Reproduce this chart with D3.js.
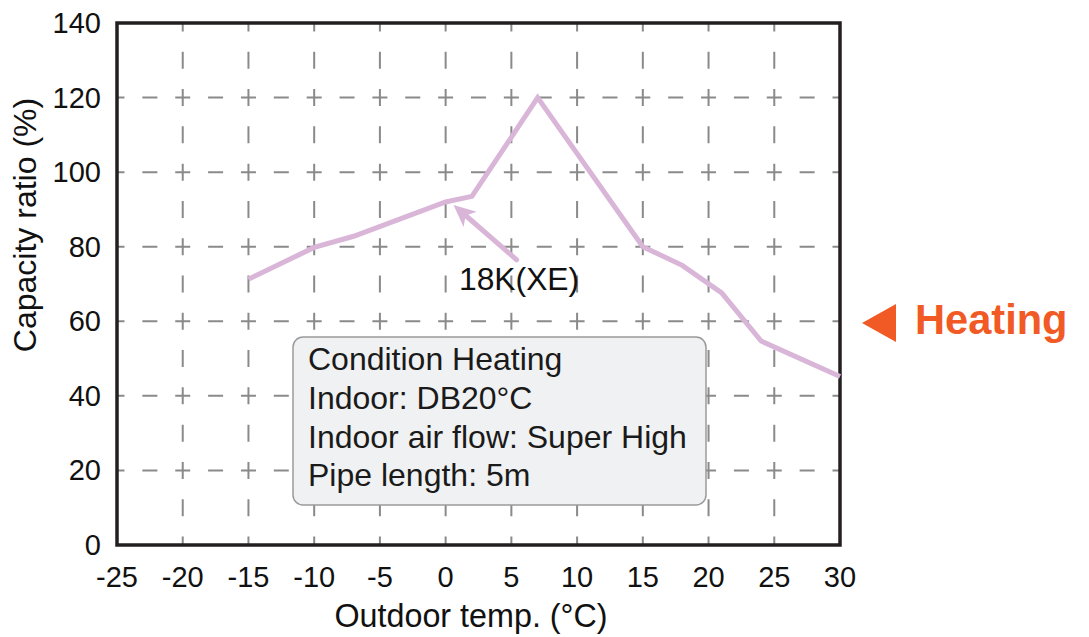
<!DOCTYPE html>
<html><head><meta charset="utf-8">
<script src="https://cdn.jsdelivr.net/npm/d3@7"></script>
<style>body{margin:0;background:#fff}svg{display:block}text{font-family:"Liberation Sans",Arial,sans-serif}</style>
</head><body><svg id="c" width="1089" height="637"></svg>
<script>
const temps = [-15, -10, -7, 0, 2, 7, 15, 18, 21, 24, 30];
const capacity = [71.3, 79.8, 82.8, 92, 93.5, 120, 80, 75, 67.6, 54.7, 45.2];
const xTicks = [-25, -20, -15, -10, -5, 0, 5, 10, 15, 20, 25, 30];
const yTicks = [0, 20, 40, 60, 80, 100, 120, 140];
const boxLines = ["Condition Heating", "Indoor: DB20°C", "Indoor air flow: Super High", "Pipe length: 5m"];
const seriesLabel = "18K(XE)";
const arrowFrom = [5.4, 76.5], arrowTo = [0.6, 91.2];

const svg = d3.select("#c");
const L = 117, R = 840, T = 23, B = 545;
const x = d3.scaleLinear().domain([-25, 30]).range([L, R]);
const y = d3.scaleLinear().domain([0, 140]).range([B, T]);

// grid
const gx = Math.abs(x(5) - x(0)) / 2, gy = Math.abs(y(0) - y(20)) / 2;
const dh = 15, dv = 17;
svg.append("g").selectAll("line").data(yTicks.slice(1, -1)).join("line")
  .attr("x1", L).attr("x2", R).attr("y1", d => y(d)).attr("y2", d => y(d))
  .attr("stroke", "#8a8a8a").attr("stroke-width", 2)
  .attr("stroke-dasharray", `${dh},${gx - dh}`).attr("stroke-dashoffset", dh / 2);
svg.append("g").selectAll("line").data(xTicks.slice(1, -1)).join("line")
  .attr("x1", d => x(d)).attr("x2", d => x(d)).attr("y1", B).attr("y2", T)
  .attr("stroke", "#8a8a8a").attr("stroke-width", 2)
  .attr("stroke-dasharray", `${dv},${gy - dv}`).attr("stroke-dashoffset", dv / 2);

// frame
svg.append("rect").attr("x", L).attr("y", T).attr("width", R - L).attr("height", B - T)
  .attr("fill", "none").attr("stroke", "#231f20").attr("stroke-width", 3.5);

// axes labels
svg.append("g").selectAll("text").data(xTicks).join("text")
  .attr("x", d => x(d)).attr("y", 587).attr("text-anchor", "middle")
  .attr("font-size", 29).attr("fill", "#111").text(d => d);
svg.append("g").selectAll("text").data(yTicks).join("text")
  .attr("x", 101).attr("y", d => y(d) + 10).attr("text-anchor", "end")
  .attr("font-size", 29).attr("fill", "#111").text(d => d);
svg.append("text").attr("x", 471).attr("y", 627).attr("text-anchor", "middle")
  .attr("font-size", 32.3).attr("fill", "#111").text("Outdoor temp. (°C)");
svg.append("text").attr("transform", `translate(36,${(92 + 358) / 2}) rotate(-90)`)
  .attr("text-anchor", "middle").attr("font-size", 32).attr("fill", "#111").text("Capacity ratio (%)");

// info box
const bx = 293, by = 337, bw = 413, bh = 168;
svg.append("rect").attr("x", bx).attr("y", by).attr("width", bw).attr("height", bh)
  .attr("rx", 10).attr("fill", "#f0f1f2").attr("stroke", "#9a9a9a").attr("stroke-width", 1.5);
svg.append("g").selectAll("text").data(boxLines).join("text")
  .attr("x", 308).attr("y", (d, i) => 370 + i * 38.8)
  .attr("font-size", 32).attr("fill", "#1a1a1a").text(d => d);

// series line
const lineColor = "#d9b5d8";
svg.append("path").datum(temps.map((t, i) => [t, capacity[i]]))
  .attr("d", d3.line().x(d => x(d[0])).y(d => y(d[1])))
  .attr("fill", "none").attr("stroke", lineColor).attr("stroke-width", 5)
  .attr("stroke-linejoin", "miter");

// annotation arrow
const ax1 = x(arrowFrom[0]), ay1 = y(arrowFrom[1]), ax2 = x(arrowTo[0]), ay2 = y(arrowTo[1]);
const ang = Math.atan2(ay2 - ay1, ax2 - ax1);
const hl = 22, hw = 10;
const bxh = ax2 - hl * Math.cos(ang), byh = ay2 - hl * Math.sin(ang);
svg.append("line").attr("x1", ax1).attr("y1", ay1).attr("x2", bxh + 4 * Math.cos(ang)).attr("y2", byh + 4 * Math.sin(ang))
  .attr("stroke", lineColor).attr("stroke-width", 5).attr("stroke-linecap", "round");
const nx = -Math.sin(ang), ny = Math.cos(ang);
const back = 6;
svg.append("path").attr("d", `M${ax2},${ay2} L${bxh + nx * hw},${byh + ny * hw} L${bxh + back * Math.cos(ang)},${byh + back * Math.sin(ang)} L${bxh - nx * hw},${byh - ny * hw} Z`)
  .attr("fill", lineColor);
svg.append("text").attr("x", 459).attr("y", 290).attr("font-size", 31.8).attr("fill", "#111").text(seriesLabel);

// Heating marker
const orange = "#f15a24";
svg.append("path").attr("d", "M862,323 L896,304 L896,342 Z").attr("fill", orange);
svg.append("text").attr("x", 915).attr("y", 334).attr("font-size", 41.6).attr("font-weight", "bold")
  .attr("fill", orange).text("Heating");
</script></body></html>
